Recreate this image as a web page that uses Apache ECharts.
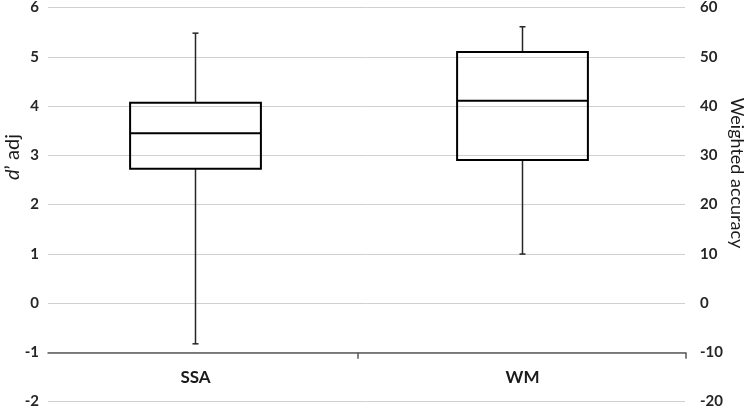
<!DOCTYPE html>
<html>
<head>
<meta charset="utf-8">
<script src="https://cdn.jsdelivr.net/npm/echarts@6/dist/echarts.min.js"></script>
<style>
  html, body { margin: 0; padding: 0; background: #fff; }
  #chart { width: 749px; height: 411px; }
</style>
</head>
<body>
<div id="chart"></div>
<script>
const categories = ['SSA', 'WM']
// [min, Q1, median, Q3, max]
const ssaBox = [-0.82, 2.73, 3.45, 4.07, 5.48]   // d' adj (left axis)
const wmBox = [10, 29.1, 41.1, 51, 56.1]        // weighted accuracy (right axis)
const leftTicks = [-2, 6, 1]
const rightTicks = [-20, 60, 10]

const chart = echarts.init(document.getElementById('chart'))

const labelFont = { color: '#262626', fontSize: 15, fontWeight: 'bold', fontFamily: 'Lato' }

// draws one box with thin whiskers and short caps
const renderBox = (params, api) => {
  const cat = api.value(0)
  const lo = api.coord([cat, api.value(1)])
  const q1 = api.coord([cat, api.value(2)])
  const med = api.coord([cat, api.value(3)])
  const q3 = api.coord([cat, api.value(4)])
  const hi = api.coord([cat, api.value(5)])
  const half = api.size([1, 0])[0] * 0.2
  const cap = 3
  const x = med[0]
  const boxStyle = { stroke: '#000', lineWidth: 2, fill: null }
  const whiskStyle = { stroke: '#262626', lineWidth: 1.5 }
  return {
    type: 'group',
    children: [
      { type: 'line', shape: { x1: x, y1: hi[1], x2: x, y2: q3[1] }, style: whiskStyle },
      { type: 'line', shape: { x1: x, y1: q1[1], x2: x, y2: lo[1] }, style: whiskStyle },
      { type: 'line', shape: { x1: x - cap, y1: hi[1], x2: x + cap, y2: hi[1] }, style: whiskStyle },
      { type: 'line', shape: { x1: x - cap, y1: lo[1], x2: x + cap, y2: lo[1] }, style: whiskStyle },
      { type: 'rect', shape: { x: x - half, y: q3[1], width: half * 2, height: q1[1] - q3[1] }, style: boxStyle },
      { type: 'line', shape: { x1: x - half, y1: med[1], x2: x + half, y2: med[1] }, style: { stroke: '#000', lineWidth: 2 } }
    ]
  }
}

const axisGray = '#595959'

const option = {
  animation: false,
  grid: [
    { left: 48, right: 64, top: 7.5, bottom: 9.5 },   // gridlines + tick labels
    { left: 32, right: 63, top: 7.5, bottom: 58.3 },  // boxes + category labels
    { left: 48, right: 63, top: 7.5, bottom: 58.3 },  // axis line at -1
    { left: 358, right: 63, top: 7.5, bottom: 58.3 }  // tick marks (middle + right end)
  ],
  xAxis: [
    { type: 'category', gridIndex: 0, data: categories, show: false },
    {
      type: 'category', gridIndex: 1, data: categories,
      axisLine: { show: false, onZero: false },
      axisTick: { show: false },
      axisLabel: { margin: 16, color: '#1a1a1a', fontSize: 17, fontWeight: 'bold', fontFamily: 'Lato' }
    },
    {
      type: 'category', gridIndex: 2, data: categories,
      axisLine: { show: true, onZero: false, lineStyle: { color: axisGray, width: 1.5 } },
      axisTick: { show: false }, axisLabel: { show: false }
    },
    {
      type: 'category', gridIndex: 3, data: [categories[1]],
      axisLine: { show: false, onZero: false },
      axisTick: { show: true, length: 6, lineStyle: { color: axisGray, width: 1.5 } },
      axisLabel: { show: false }
    }
  ],
  yAxis: [
    {
      type: 'value', gridIndex: 0, min: leftTicks[0], max: leftTicks[1], interval: leftTicks[2],
      axisLine: { show: false }, axisTick: { show: false },
      axisLabel: { ...labelFont, margin: 9 },
      splitLine: { lineStyle: { color: '#d0d0d0', width: 1 } }
    },
    {
      type: 'value', gridIndex: 0, position: 'right', min: rightTicks[0], max: rightTicks[1], interval: rightTicks[2],
      axisLine: { show: false }, axisTick: { show: false },
      axisLabel: { ...labelFont, margin: 15 },
      splitLine: { show: false }
    },
    { type: 'value', gridIndex: 1, min: -1, max: 6, show: false, splitLine: { show: false } },
    { type: 'value', gridIndex: 1, position: 'right', min: -10, max: 60, show: false, splitLine: { show: false } },
    { type: 'value', gridIndex: 2, min: -1, max: 6, show: false, splitLine: { show: false } },
    { type: 'value', gridIndex: 3, min: -1, max: 6, show: false, splitLine: { show: false } }
  ],
  graphic: [
    {
      type: 'text', x: 13, y: 157, rotation: Math.PI / 2,
      style: {
        text: '{i|d}’ adj',
        rich: { i: { fontStyle: 'italic', fontSize: 20, fontFamily: 'Lato', fill: '#1a1a1a' } },
        fontSize: 20, fontFamily: 'Lato', fill: '#1a1a1a',
        align: 'center', verticalAlign: 'middle'
      }
    },
    {
      type: 'text', x: 737, y: 173, rotation: -Math.PI / 2,
      style: {
        text: 'Weighted accuracy',
        fontSize: 18, fontFamily: 'Lato', fill: '#1a1a1a',
        align: 'center', verticalAlign: 'middle'
      }
    }
  ],
  series: [
    {
      type: 'custom', name: 'SSA', xAxisIndex: 1, yAxisIndex: 2,
      renderItem: renderBox,
      data: [[0, ...ssaBox]]
    },
    {
      type: 'custom', name: 'WM', xAxisIndex: 1, yAxisIndex: 3,
      renderItem: renderBox,
      data: [[1, ...wmBox]]
    }
  ]
}

chart.setOption(option)
</script>
</body>
</html>
